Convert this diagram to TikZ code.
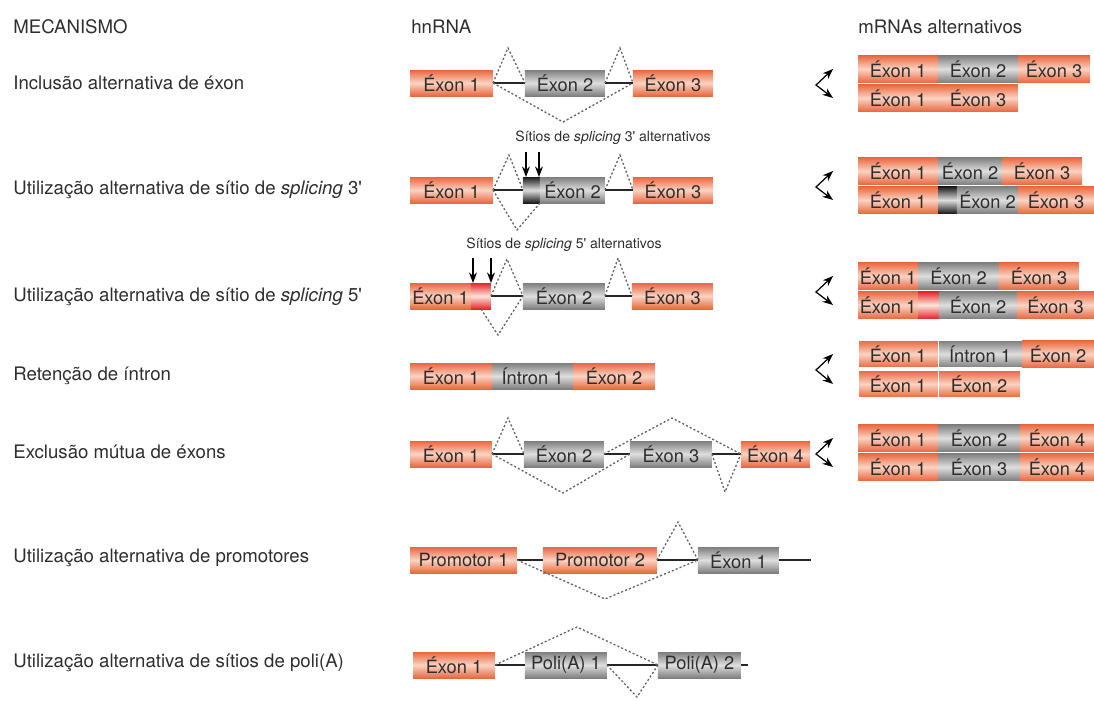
\documentclass[tikz,border=0pt]{standalone}
\usepackage{fontspec}
\setmainfont{TeX Gyre Heros}
\usetikzlibrary{arrows.meta, positioning, calc}
\definecolor{cRed}{HTML}{E9673F}
\definecolor{cLightRed}{HTML}{FAD3C2}
\definecolor{cGrey}{HTML}{7E7E7E}
\definecolor{cLightGrey}{HTML}{DEDEDE}
\definecolor{cSite}{HTML}{E3262B}
\definecolor{cText}{HTML}{2E2E2E}

\begin{document}
\begin{tikzpicture}[
    x=0.02cm, y=-0.02cm,
    >=Stealth,
    font=\fontsize{10.4}{12}\selectfont,
    box/.style={inner sep=0pt, outer sep=0pt, minimum height=0.52cm, text=cText},
    redbox/.style={box, top color=cRed, bottom color=cRed, middle color=cLightRed},
    greybox/.style={box, top color=cGrey, bottom color=cGrey, middle color=cLightGrey},
    site3/.style={box, top color=black!90, bottom color=black!90, middle color=cLightGrey},
    site5/.style={box, top color=cSite, bottom color=cSite, middle color=cLightRed!60},
    mrna/.style={minimum height=0.54cm},
    seam/.style={draw=white, line width=0.5pt},
    intr/.style={line width=1.1pt, draw=black!85},
    splice/.style={draw=black!60, line width=0.75pt, dash pattern=on 1.2pt off 1.2pt},
    brk/.style={<->, >={Stealth[length=6pt,width=4.5pt]}, line width=0.7pt},
    site/.style={->, >={Stealth[length=6pt,width=4.5pt]}, line width=0.8pt},
    lbl/.style={anchor=west, font=\fontsize{10.6}{12}\selectfont, text=cText, inner sep=0pt},
    note/.style={font=\fontsize{8}{10}\selectfont, text=cText, inner sep=0pt},
]
\useasboundingbox (0,0) rectangle (1094,700);

% ================================================================
%  Headers and mechanism names
% ================================================================

\node[lbl] (mech) at (13,27) {MECANISMO};
\node[lbl] (hn)   at (411,27) {hnRNA};
\node[lbl] (alt)  at (858,27) {mRNAs alternativos};

\node[lbl] (l1) at (13,83)  {Inclusão alternativa de éxon};
\node[lbl] (l2) at (13,190) {Utilização alternativa de sítio de \textit{splicing} 3\textquotesingle};
\node[lbl] (l3) at (13,297) {Utilização alternativa de sítio de \textit{splicing} 5\textquotesingle};
\node[lbl] (l4) at (13,376) {Retenção de íntron};
\node[lbl] (l5) at (13,452) {Exclusão mútua de éxons};
\node[lbl] (l6) at (13,558) {Utilização alternativa de promotores};
\node[lbl] (l7) at (13,663) {Utilização alternativa de sítios de poli(A)};

% ================================================================
%  ROW 1: exon inclusion
% ================================================================

\node[redbox, anchor=west, minimum width=1.66cm] (r1e1) at (410,83) {Éxon 1};
\node[greybox, right=0.64cm of r1e1, minimum width=1.6cm] (r1e2) {Éxon 2};
\node[redbox, right=0.56cm of r1e2, minimum width=1.6cm] (r1e3) {Éxon 3};
\draw[intr] (r1e1) -- (r1e2);
\draw[intr] (r1e2) -- (r1e3);
\draw[splice] (r1e1.east) -- (508,48) -- (r1e2.west);
\draw[splice] (r1e2.east) -- (620,48) -- (r1e3.west);
\draw[splice] (r1e1.east) -- (563,122) -- (r1e3.west);

\node[redbox, mrna, anchor=west, minimum width=1.6cm] (m1a1) at (858,69) {Éxon 1};
\node[greybox, mrna, right=0pt of m1a1, minimum width=1.6cm] (m1a2) {Éxon 2};
\node[redbox, mrna, right=0pt of m1a2, minimum width=1.44cm] (m1a3) {Éxon 3};
\node[redbox, mrna, anchor=west, minimum width=1.6cm] (m1b1) at (858,98) {Éxon 1};
\node[redbox, mrna, right=0pt of m1b1, minimum width=1.6cm] (m1b2) {Éxon 3};
\coordinate (v1) at (816,85);
\draw[brk] ([xshift=-0.5cm]m1a1.west) -- (v1) -- ([xshift=-0.5cm]m1b1.west);

% ================================================================
%  ROW 2: alternative 3' splice site
% ================================================================

\node[note] (n3) at (613,138) {Sítios de \textit{splicing} 3\textquotesingle\ alternativos};

\node[redbox, anchor=west, minimum width=1.66cm] (r2e1) at (410,190) {Éxon 1};
\node[site3, right=0.6cm of r2e1, minimum width=0.34cm] (r2b) {};
\node[greybox, right=0pt of r2b, minimum width=1.3cm] (r2e2) {Éxon 2};
\node[redbox, right=0.56cm of r2e2, minimum width=1.6cm] (r2e3) {Éxon 3};
\draw[intr] (r2e1) -- (r2b);
\draw[intr] (r2e2) -- (r2e3);
\draw[splice] (r2e1.east) -- (509,155) -- (r2b.west);
\draw[splice] (r2e2.east) -- (620,155) -- (r2e3.west);
\draw[splice] (r2e1.east) -- (517,230) -- (r2b.south east);
\draw[site] ([xshift=0.06cm,yshift=0.5cm]r2b.north west) -- ([xshift=0.06cm]r2b.north west);
\draw[site] ([xshift=-0.02cm,yshift=0.5cm]r2b.north east) -- ([xshift=-0.02cm]r2b.north east);

\node[redbox, mrna, anchor=west, minimum width=1.6cm] (m2a1) at (858,171) {Éxon 1};
\node[greybox, mrna, right=0pt of m2a1, minimum width=1.28cm] (m2a2) {Éxon 2};
\node[redbox, mrna, right=0pt of m2a2, minimum width=1.6cm] (m2a3) {Éxon 3};
\node[redbox, mrna, anchor=west, minimum width=1.6cm] (m2b1) at (858,200) {Éxon 1};
\node[site3, mrna, right=0pt of m2b1, minimum width=0.38cm] (m2b2) {};
\node[greybox, mrna, right=0pt of m2b2, minimum width=1.22cm] (m2b3) {Éxon 2};
\node[redbox, mrna, right=0pt of m2b3, minimum width=1.52cm] (m2b4) {Éxon 3};
\coordinate (v2) at (816,187);
\draw[brk] ([xshift=-0.5cm]m2a1.west) -- (v2) -- ([xshift=-0.5cm]m2b1.west);

% ================================================================
%  ROW 3: alternative 5' splice site
% ================================================================

\node[note] (n5) at (564,245) {Sítios de \textit{splicing} 5\textquotesingle\ alternativos};

\node[redbox, anchor=west, minimum width=1.22cm] (r3e1) at (410,296) {Éxon 1};
\node[site5, right=0pt of r3e1, minimum width=0.4cm] (r3b) {};
\node[greybox, right=0.64cm of r3b, minimum width=1.64cm] (r3e2) {Éxon 2};
\node[redbox, right=0.54cm of r3e2, minimum width=1.62cm] (r3e3) {Éxon 3};
\draw[intr] (r3b) -- (r3e2);
\draw[intr] (r3e2) -- (r3e3);
\draw[splice] (r3b.east) -- (507,259) -- (r3e2.west);
\draw[splice] (r3e2.east) -- (618,258) -- (r3e3.west);
\draw[splice] (r3b.south) -- (498,335) -- (r3e2.west);
\draw[site] ([xshift=0.04cm,yshift=0.5cm]r3b.north west) -- ([xshift=0.04cm]r3b.north west);
\draw[site] ([yshift=0.5cm]r3b.north east) -- (r3b.north east);

\node[redbox, mrna, anchor=west, minimum width=1.2cm] (m3a1) at (858,276) {Éxon 1};
\node[greybox, mrna, right=0pt of m3a1, minimum width=1.62cm] (m3a2) {Éxon 2};
\node[redbox, mrna, right=0pt of m3a2, minimum width=1.6cm] (m3a3) {Éxon 3};
\node[redbox, mrna, anchor=west, minimum width=1.2cm] (m3b1) at (858,305) {Éxon 1};
\node[site5, mrna, right=0pt of m3b1, minimum width=0.42cm] (m3b2) {};
\node[greybox, mrna, right=0pt of m3b2, minimum width=1.56cm] (m3b3) {Éxon 2};
\node[redbox, mrna, right=0pt of m3b3, minimum width=1.54cm] (m3b4) {Éxon 3};
\coordinate (v3) at (816,292);
\draw[brk] ([xshift=-0.5cm]m3a1.west) -- (v3) -- ([xshift=-0.5cm]m3b1.west);

% ================================================================
%  ROW 4: intron retention
% ================================================================

\node[redbox, anchor=west, minimum width=1.64cm] (r4e1) at (410,376) {Éxon 1};
\node[greybox, right=0pt of r4e1, minimum width=1.62cm] (r4i) {Íntron 1};
\node[redbox, right=0pt of r4i, minimum width=1.64cm] (r4e2) {Éxon 2};

\node[redbox, mrna, seam, anchor=west, minimum width=1.6cm] (m4a1) at (858,354) {Éxon 1};
\node[greybox, mrna, seam, right=0pt of m4a1, minimum width=1.68cm] (m4a2) {Íntron 1};
\node[redbox, mrna, right=0pt of m4a2, minimum width=1.44cm] (m4a3) {Éxon 2};
\node[redbox, mrna, seam, anchor=west, minimum width=1.6cm] (m4b1) at (858,384) {Éxon 1};
\node[redbox, mrna, seam, right=0pt of m4b1, minimum width=1.64cm] (m4b2) {Éxon 2};
\coordinate (v4) at (816,370);
\draw[brk] ([xshift=-0.5cm]m4a1.west) -- (v4) -- ([xshift=-0.5cm]m4b1.west);

% ================================================================
%  ROW 5: mutually exclusive exons
% ================================================================

\node[redbox, anchor=west, minimum width=1.64cm] (r5e1) at (410,454) {Éxon 1};
\node[greybox, right=0.64cm of r5e1, minimum width=1.6cm] (r5e2) {Éxon 2};
\node[greybox, right=0.52cm of r5e2, minimum width=1.64cm] (r5e3) {Éxon 3};
\node[redbox, right=0.58cm of r5e3, minimum width=1.38cm] (r5e4) {Éxon 4};
\draw[intr] (r5e1) -- (r5e2);
\draw[intr] (r5e2) -- (r5e3);
\draw[intr] (r5e3) -- (r5e4);
\draw[splice] (r5e1.east) -- (508,418) -- (r5e2.west);
\draw[splice] (r5e1.east) -- (563,493) -- (r5e3.west);
\draw[splice] (r5e2.east) -- (672,418) -- (r5e4.west);
\draw[splice] (r5e3.east) -- (725,492) -- (r5e4.west);

\node[redbox, mrna, anchor=west, minimum width=1.6cm] (m5a1) at (858,438) {Éxon 1};
\node[greybox, mrna, right=0pt of m5a1, minimum width=1.64cm] (m5a2) {Éxon 2};
\node[redbox, mrna, right=0pt of m5a2, minimum width=1.48cm] (m5a3) {Éxon 4};
\node[redbox, mrna, anchor=west, minimum width=1.6cm] (m5b1) at (858,467) {Éxon 1};
\node[greybox, mrna, right=0pt of m5b1, minimum width=1.64cm] (m5b2) {Éxon 3};
\node[redbox, mrna, right=0pt of m5b2, minimum width=1.48cm] (m5b3) {Éxon 4};
\coordinate (v5) at (816,454);
\draw[brk] ([xshift=-0.5cm]m5a1.west) -- (v5) -- ([xshift=-0.5cm]m5b1.west);

% ================================================================
%  ROW 6: alternative promoters
% ================================================================

\node[redbox, anchor=west, minimum width=2.14cm] (r6p1) at (410,560) {Promotor 1};
\node[redbox, right=0.52cm of r6p1, minimum width=2.28cm] (r6p2) {Promotor 2};
\node[greybox, right=0.82cm of r6p2, minimum width=1.62cm] (r6e1) {Éxon 1};
\coordinate[right=0.64cm of r6e1] (r6end);
\draw[intr] (r6p1) -- (r6p2);
\draw[intr] (r6p2) -- (r6e1);
\draw[intr] (r6e1) -- (r6end);
\draw[splice] (r6p2.east) -- (678,522) -- (r6e1.west);
\draw[splice] (r6p1.east) -- (605,599) -- (r6e1.west);

% ================================================================
%  ROW 7: alternative poly(A) sites
% ================================================================

\node[redbox, anchor=west, minimum width=1.64cm] (r7e1) at (413,665) {Éxon 1};
\node[greybox, right=0.6cm of r7e1, minimum width=1.64cm] (r7p1) {Poli(A) 1};
\node[greybox, right=1.02cm of r7p1, minimum width=1.66cm] (r7p2) {Poli(A) 2};
\coordinate[right=0.14cm of r7p2] (r7end);
\draw[intr] (r7e1) -- (r7p1);
\draw[intr] (r7p1) -- (r7p2);
\draw[intr] (r7p2) -- (r7end);
\draw[splice] (r7e1.east) -- (577,627) -- (r7p2.west);
\draw[splice] (r7p1.east) -- (637,697) -- (r7p2.west);

\end{tikzpicture}
\end{document}
